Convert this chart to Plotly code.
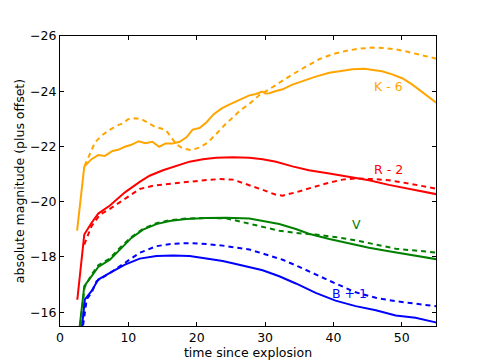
import plotly.graph_objects as go

# K band (offset -6)
k_solid_t = [2.5, 3.55, 4.6, 5.6, 6.56, 7.68, 8.5, 9.48, 10.45, 11.5, 12.5, 13.5, 14.5, 15.45, 16.5,
             17.5, 18.5, 19.4, 20.4, 21.4, 22.45, 23.6, 24.5, 25.5, 26.5, 27.7, 28.67, 29.55, 30.03,
             30.6, 31.6, 32.56, 34.0, 35.5, 37.4, 39.4, 41.3, 42.8, 44.5, 45.7, 47.1, 48.6, 50.05,
             51.5, 53.0, 54.8, 55.5]
k_solid_m = [-18.95, -21.27, -21.54, -21.69, -21.66, -21.84, -21.88, -21.99, -22.06, -22.19, -22.12,
             -22.17, -21.99, -22.11, -22.11, -22.17, -22.33, -22.61, -22.67, -22.87, -23.16, -23.37,
             -23.49, -23.6, -23.71, -23.85, -23.9, -23.99, -23.92, -23.93, -24.01, -24.07, -24.24,
             -24.37, -24.53, -24.67, -24.75, -24.8, -24.81, -24.78, -24.72, -24.61, -24.47, -24.25,
             -23.98, -23.63, -23.5]
k_dash_t = [3.6, 4.37, 5.1, 6.07, 7.05, 8.26, 9.23, 9.96, 10.93, 11.9, 12.88, 13.85, 14.82, 15.55,
            16.28, 17.0, 17.98, 19.2, 20.4, 21.6, 22.84, 24.05, 25.27, 26.48, 27.7, 29.16, 30.6,
            32.07, 34.0, 35.96, 37.9, 39.85, 41.8, 43.7, 45.68, 47.1, 49.1, 51.0, 53.0, 54.8, 55.5]
k_dash_m = [-21.3, -21.72, -22.14, -22.39, -22.57, -22.75, -22.84, -22.99, -23.02, -22.99, -22.84,
            -22.72, -22.65, -22.57, -22.33, -22.08, -21.93, -21.87, -21.96, -22.14, -22.45, -22.77,
            -23.05, -23.33, -23.54, -23.86, -24.07, -24.31, -24.61, -24.89, -25.16, -25.34, -25.46,
            -25.54, -25.58, -25.57, -25.52, -25.42, -25.3, -25.19, -25.15]

# R band (offset -2)
r_solid_t = [2.53, 3.55, 4.6, 5.6, 7.3, 9.5, 11.66, 13.1, 15.06, 17.0, 18.95, 20.9, 22.84, 25.27,
             27.7, 29.64, 31.6, 34.0, 36.4, 39.4, 42.3, 45.2, 48.1, 51.0, 54.8, 55.5]
r_solid_m = [-16.45, -18.81, -19.23, -19.57, -19.86, -20.34, -20.72, -20.94, -21.14, -21.3, -21.45,
             -21.54, -21.59, -21.61, -21.59, -21.54, -21.45, -21.28, -21.14, -21.02, -20.9, -20.78,
             -20.61, -20.46, -20.28, -20.25]
r_dash_t = [3.55, 4.6, 5.83, 7.3, 9.6, 11.66, 13.6, 15.55, 18.0, 20.4, 23.3, 25.3, 27.7, 29.64,
            31.6, 32.56, 34.5, 36.4, 38.9, 41.3, 43.25, 45.7, 48.1, 51.0, 54.8, 55.5]
r_dash_m = [-18.45, -19.11, -19.53, -19.74, -20.12, -20.46, -20.58, -20.64, -20.7, -20.76, -20.82,
            -20.8, -20.61, -20.43, -20.25, -20.22, -20.34, -20.48, -20.66, -20.8, -20.84, -20.82,
            -20.78, -20.66, -20.49, -20.45]

# V band
v_solid_t = [2.75, 3.55, 4.6, 5.6, 7.3, 8.75, 10.45, 12.15, 14.1, 16.03, 18.46, 21.4, 24.3, 27.7,
             29.64, 32.07, 34.5, 36.4, 39.4, 42.3, 45.2, 48.1, 51.0, 54.8, 55.5]
v_solid_m = [-15.2, -16.94, -17.3, -17.64, -17.9, -18.27, -18.69, -18.99, -19.19, -19.3, -19.37,
             -19.41, -19.42, -19.39, -19.31, -19.19, -19.01, -18.84, -18.65, -18.48, -18.33, -18.21,
             -18.09, -17.93, -17.9]
v_dash_t = [2.8, 3.6, 4.6, 5.6, 7.3, 8.75, 10.45, 12.15, 14.1, 16.03, 18.46, 21.4, 24.3, 26.2, 27.7,
            29.64, 32.07, 34.5, 37.4, 40.3, 43.25, 46.2, 49.1, 52.0, 54.8, 55.5]
v_dash_m = [-15.2, -16.9, -17.35, -17.7, -17.95, -18.33, -18.72, -19.02, -19.22, -19.33, -19.39,
            -19.41, -19.4, -19.29, -19.23, -19.11, -18.95, -18.87, -18.81, -18.72, -18.6, -18.45,
            -18.3, -18.23, -18.17, -18.15]

# B band (offset +1)
b_solid_t = [3.1, 3.64, 4.6, 5.6, 7.3, 9.5, 11.66, 14.1, 16.5, 18.95, 21.4, 23.8, 26.2, 27.7, 29.64,
             32.07, 34.5, 37.4, 40.3, 43.25, 46.2, 49.1, 52.0, 54.8, 55.5]
b_solid_m = [-15.2, -16.46, -16.76, -17.18, -17.42, -17.72, -17.94, -18.03, -18.05, -18.03, -17.94,
             -17.85, -17.72, -17.64, -17.52, -17.3, -17.04, -16.7, -16.42, -16.22, -16.07, -15.88,
             -15.8, -15.64, -15.6]
b_dash_t = [3.2, 3.9, 4.6, 5.35, 7.3, 9.5, 11.66, 14.1, 16.5, 18.95, 21.4, 23.8, 26.2, 27.7, 30.1,
            32.56, 35.0, 37.4, 40.3, 43.25, 46.2, 49.1, 52.0, 54.8, 55.5]
b_dash_m = [-15.2, -16.46, -16.7, -17.12, -17.42, -17.78, -18.15, -18.39, -18.48, -18.5, -18.47,
            -18.41, -18.33, -18.27, -18.09, -17.9, -17.64, -17.36, -17.04, -16.72, -16.52, -16.4,
            -16.3, -16.22, -16.2]

labels = ["K - 6", "R - 2", "V", "B + 1"]
label_t = [48.0, 48.0, 43.4, 42.4]
label_m = [-24.16, -21.16, -19.17, -16.68]
colors = ["#FFA500", "#FF0000", "#008000", "#0000FF"]

series = [
    (k_solid_t, k_solid_m, k_dash_t, k_dash_m),
    (r_solid_t, r_solid_m, r_dash_t, r_dash_m),
    (v_solid_t, v_solid_m, v_dash_t, v_dash_m),
    (b_solid_t, b_solid_m, b_dash_t, b_dash_m),
]

fig = go.Figure()
for (st, sm, dt, dm), c in zip(series, colors):
    fig.add_trace(go.Scatter(x=st, y=sm, mode="lines", line=dict(color=c, width=2)))
    fig.add_trace(go.Scatter(x=dt, y=dm, mode="lines", line=dict(color=c, width=2, dash="5px,4px")))

for txt, t, m, c in zip(labels, label_t, label_m, colors):
    fig.add_annotation(x=t, y=m, text=txt, showarrow=False, font=dict(color=c, size=12.5))

axis_common = dict(showline=True, linecolor="black", linewidth=1, mirror="ticks", ticks="inside",
                   ticklen=4, tickcolor="black", showgrid=False, zeroline=False, automargin=False,
                   tickfont=dict(size=12.5, color="black"))
fig.update_xaxes(range=[0, 55], tickvals=[0, 10, 20, 30, 40, 50],
                 title=dict(text="time since explosion", font=dict(size=12.5), standoff=0),
                 **axis_common)
fig.update_yaxes(range=[-15.5, -26], tickvals=[-16, -18, -20, -22, -24, -26],
                 title=dict(text="absolute magnitude (plus offset)", font=dict(size=12.5), standoff=2),
                 **axis_common)
# page body has an 8px margin, so the figure is a bit smaller and margins shifted
fig.update_layout(width=477, height=355, showlegend=False, plot_bgcolor="white", paper_bgcolor="white",
                  margin=dict(l=52, r=49, t=28, b=37),
                  font=dict(family="DejaVu Sans", color="black"))
fig.write_html("out.html")
